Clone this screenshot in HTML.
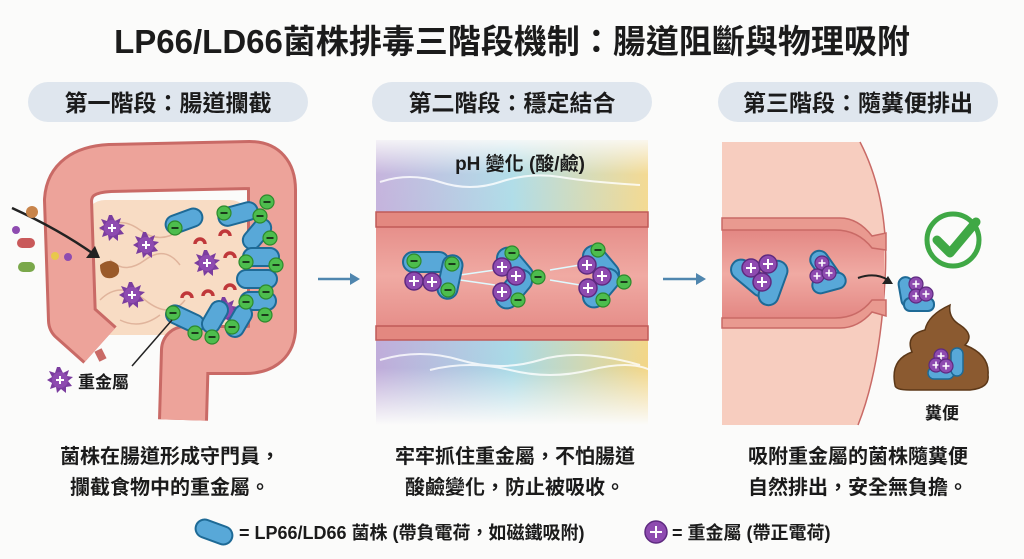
<!DOCTYPE html>
<html><head><meta charset="utf-8"><style>
body{margin:0;background:#fbfbfa;}
svg{display:block}
text{font-family:"Liberation Sans","Noto Sans CJK TC",sans-serif;font-weight:700;fill:#1b1b1b}
</style></head><body>
<svg width="1024" height="559" viewBox="0 0 1024 559" xmlns="http://www.w3.org/2000/svg">
<defs>
<g id="m"><circle r="9" fill="#8e4bb0" stroke="#5e2a80" stroke-width="1.5"/><path d="M-5 0H5M0-5V5" stroke="#fff" stroke-width="2"/></g>
<g id="sm"><circle r="7" fill="#8e4bb0" stroke="#5e2a80" stroke-width="1.2"/><path d="M-3.5 0H3.5M0-3.5V3.5" stroke="#fff" stroke-width="1.6"/></g>
<g id="n"><circle r="7" fill="#4dbd4d" stroke="#2d8a2d" stroke-width="1.2"/><path d="M-3.5 0H3.5" stroke="#1b3b1b" stroke-width="2"/></g>
<g id="star"><polygon points="0,-13 3,-7 9,-10 7,-4 13,-3 8,1 12,6 6,7 6,13 1,9 -3,13 -4,7 -10,9 -8,3 -13,0 -8,-3 -11,-9 -5,-7 -3,-13" fill="#7b3d9f"/><circle r="8" fill="#8e4bb0"/><path d="M-4 0H4M0-4V4" stroke="#fff" stroke-width="2"/></g>
<linearGradient id="rb" x1="0" x2="1"><stop offset="0" stop-color="#b9a3d6"/><stop offset=".5" stop-color="#9fd6e4"/><stop offset="1" stop-color="#f2d27a"/></linearGradient>
<linearGradient id="fade" x1="0" y1="0" x2="0" y2="1"><stop offset="0" stop-color="#fbfbfa" stop-opacity=".9"/><stop offset=".12" stop-color="#fbfbfa" stop-opacity=".2"/><stop offset=".8" stop-color="#fbfbfa" stop-opacity=".1"/><stop offset="1" stop-color="#fbfbfa" stop-opacity="1"/></linearGradient>
<linearGradient id="lum" x1="0" y1="0" x2="0" y2="1"><stop offset="0" stop-color="#e38783"/><stop offset=".5" stop-color="#f0aaa3"/><stop offset="1" stop-color="#e38783"/></linearGradient>
</defs>

<text x="512" y="53" font-size="33" text-anchor="middle">LP66/LD66菌株排毒三階段機制：腸道阻斷與物理吸附</text>

<rect x="28" y="82" width="280" height="40" rx="20" fill="#dfe6ee"/>
<text x="168" y="111" font-size="23" text-anchor="middle">第一階段：腸道攔截</text>
<rect x="372" y="82" width="280" height="40" rx="20" fill="#dfe6ee"/>
<text x="512" y="111" font-size="23" text-anchor="middle">第二階段：穩定結合</text>
<rect x="718" y="82" width="280" height="40" rx="20" fill="#dfe6ee"/>
<text x="858" y="111" font-size="23" text-anchor="middle">第三階段：隨糞便排出</text>

<!-- Panel 1 colon -->
<rect x="85" y="200" width="165" height="135" rx="20" fill="#f8dcc4"/>
<g fill="none" stroke="#e0b49c" stroke-width="1.5">
<path d="M100 230q20-15 40 0t40 0M110 260q15 15 35 0t35 5M100 300q20-20 45 0t40 0M120 320q20 10 40-5"/>
</g>
<path d="M100 345 L72 320 L68 200 Q70 170 110 168 L250 165 Q272 165 272 190 L272 330 Q270 350 245 350 L185 350 L183 420" fill="none" stroke="#c96a66" stroke-width="50" stroke-linejoin="round"/>
<path d="M100 345 L72 320 L68 200 Q70 170 110 168 L250 165 Q272 165 272 190 L272 330 Q270 350 245 350 L185 350 L183 420" fill="none" stroke="#eda39a" stroke-width="44" stroke-linejoin="round"/>
<path d="M98 350 l5 10" stroke="#c96a66" stroke-width="8"/>
<path d="M12 208 Q60 230 95 255" fill="none" stroke="#222" stroke-width="2.5"/>
<polygon points="100,258 86,258 95,246" fill="#222"/>
<circle cx="32" cy="212" r="6" fill="#c8844a"/><circle cx="16" cy="230" r="4" fill="#8e4bb0"/>
<rect x="17" y="238" width="18" height="10" rx="5" fill="#c9595a"/><circle cx="55" cy="256" r="4" fill="#e8c84b"/><circle cx="68" cy="257" r="4" fill="#8e4bb0"/>
<rect x="18" y="262" width="17" height="10" rx="5" fill="#7aa84a"/>
<path d="M100 265q10-8 18 0q4 10-6 13q-12 2-12-13z" fill="#9a5a2a"/>
<use href="#star" x="112" y="228"/><use href="#star" x="146" y="245"/><use href="#star" x="132" y="295"/><use href="#star" x="207" y="263"/><use href="#star" x="225" y="310"/>
<g fill="#58a8d8" stroke="#1e6a96" stroke-width="2">
<rect x="165" y="212" width="38" height="18" rx="9" transform="rotate(-20 184 221)"/>
<rect x="218" y="205" width="40" height="18" rx="9" transform="rotate(-15 238 214)"/>
<rect x="240" y="225" width="34" height="18" rx="9" transform="rotate(-50 257 234)"/>
<rect x="243" y="248" width="36" height="18" rx="9"/>
<rect x="237" y="270" width="40" height="18" rx="9"/>
<rect x="240" y="292" width="36" height="18" rx="9"/>
<rect x="165" y="310" width="40" height="18" rx="9" transform="rotate(25 185 319)"/>
<rect x="198" y="308" width="34" height="18" rx="9" transform="rotate(-60 215 317)"/>
<rect x="222" y="312" width="34" height="18" rx="9" transform="rotate(-60 239 321)"/>
</g>
<use href="#n" x="175" y="228"/><use href="#n" x="224" y="213"/><use href="#n" x="267" y="202"/><use href="#n" x="260" y="216"/><use href="#n" x="270" y="238"/><use href="#n" x="276" y="265"/><use href="#n" x="266" y="292"/><use href="#n" x="265" y="315"/><use href="#n" x="173" y="313"/><use href="#n" x="195" y="333"/><use href="#n" x="212" y="337"/><use href="#n" x="232" y="327"/><use href="#n" x="246" y="262"/><use href="#n" x="246" y="302"/>
<g fill="none" stroke="#c0383a" stroke-width="3.5">
<path d="M195 244a5 5 0 0 1 10 0"/><path d="M220 236a5 5 0 0 1 10 0"/><path d="M225 258a5 5 0 0 1 10 0"/><path d="M182 298a5 5 0 0 1 10 0"/><path d="M203 296a5 5 0 0 1 10 0"/><path d="M225 290a5 5 0 0 1 10 0"/>
</g>
<path d="M172 320 L132 366" stroke="#222" stroke-width="1.5"/>
<use href="#star" x="60" y="380"/>
<text x="78" y="388" font-size="17">重金屬</text>

<!-- arrows -->
<path d="M318 279H352" stroke="#4f86ae" stroke-width="2.5"/><polygon points="360,279 350,273 350,285" fill="#4f86ae"/>
<path d="M663 279H697" stroke="#4f86ae" stroke-width="2.5"/><polygon points="706,279 696,273 696,285" fill="#4f86ae"/>

<!-- Panel 2 -->
<rect x="376" y="140" width="272" height="285" fill="url(#rb)"/>
<rect x="376" y="140" width="272" height="285" fill="url(#fade)"/>
<text x="520" y="170" font-size="19" text-anchor="middle">pH 變化 (酸/鹼)</text>
<g fill="none" stroke="#fff" stroke-width="2" opacity=".8">
<path d="M380 182q30-10 60 0t60 0t60-5t80 8"/><path d="M380 360q40-12 80 0t80 0t100 5"/><path d="M430 370q40-10 80 0t80 0t60 0"/>
</g>
<rect x="376" y="212" width="272" height="128" fill="url(#lum)"/>
<rect x="376" y="212" width="272" height="15" fill="#e38880" stroke="#c05a58" stroke-width="1.5"/>
<rect x="376" y="326" width="272" height="14" fill="#e38880" stroke="#c05a58" stroke-width="1.5"/>
<path d="M460 275L495 270M460 280L495 285M550 270L580 265M550 280L580 285" stroke="#dffaff" stroke-width="1.5"/>
<g fill="#58a8d8" stroke="#1e6a96" stroke-width="2">
<rect x="403" y="252" width="46" height="20" rx="10"/><rect x="440" y="255" width="20" height="44" rx="10" transform="rotate(12 450 277)"/>
<rect x="504" y="245" width="22" height="44" rx="11" transform="rotate(-40 515 267)"/><rect x="503" y="267" width="22" height="44" rx="11" transform="rotate(40 514 289)"/>
<rect x="590" y="243" width="22" height="44" rx="11" transform="rotate(-40 601 265)"/><rect x="590" y="266" width="22" height="44" rx="11" transform="rotate(40 601 288)"/>
</g>
<use href="#n" x="414" y="261"/><use href="#n" x="452" y="264"/><use href="#n" x="448" y="290"/>
<use href="#n" x="512" y="253"/><use href="#n" x="538" y="277"/><use href="#n" x="518" y="300"/>
<use href="#n" x="598" y="250"/><use href="#n" x="624" y="282"/><use href="#n" x="603" y="300"/>
<use href="#m" x="414" y="281"/><use href="#m" x="432" y="282"/>
<use href="#m" x="502" y="267"/><use href="#m" x="516" y="276"/><use href="#m" x="502" y="292"/>
<use href="#m" x="587" y="265"/><use href="#m" x="602" y="276"/><use href="#m" x="588" y="288"/>

<!-- Panel 3 -->
<path d="M722 142H860Q890 200 885 280Q880 370 858 425H722Z" fill="#f7cdbf"/>
<path d="M860 142Q890 200 885 280Q880 370 858 425" fill="none" stroke="#c96a66" stroke-width="1.5"/>
<path d="M722 230H835Q858 230 872 248L884 250V300L872 300Q858 318 835 318H722Z" fill="url(#lum)"/>
<path d="M722 218H840Q858 218 872 236L886 233V250L872 248Q858 230 835 230H722Z" fill="#e99a90" stroke="#c96a66" stroke-width="1.5"/>
<path d="M722 328H840Q858 328 872 312L886 316V300L872 300Q858 318 835 318H722Z" fill="#e99a90" stroke="#c96a66" stroke-width="1.5"/>
<g fill="#58a8d8" stroke="#1e6a96" stroke-width="2">
<rect x="728" y="268" width="46" height="20" rx="10" transform="rotate(40 751 278)"/><rect x="763" y="260" width="20" height="46" rx="10" transform="rotate(20 773 283)"/>
<rect x="816" y="249" width="18" height="38" rx="9" transform="rotate(-35 825 268)"/><rect x="812" y="275" width="34" height="16" rx="8" transform="rotate(-15 829 283)"/>
<rect x="900" y="277" width="14" height="30" rx="7" transform="rotate(-10 907 292)"/><rect x="904" y="298" width="30" height="13" rx="6"/>
<rect x="937" y="347" width="13" height="28" rx="6" transform="rotate(10 943 361)"/>
</g>
<path d="M858 278Q875 272 888 280" fill="none" stroke="#222" stroke-width="2"/><polygon points="893,284 882,284 888,276" fill="#222"/>
<use href="#m" x="751" y="268"/><use href="#m" x="768" y="264"/><use href="#m" x="762" y="282"/>
<use href="#sm" x="822" y="263"/><use href="#sm" x="817" y="276"/><use href="#sm" x="829" y="273"/>
<use href="#sm" x="916" y="284"/><use href="#sm" x="916" y="296"/><use href="#sm" x="926" y="294"/>
<circle cx="953" cy="240" r="26" fill="none" stroke="#3fa845" stroke-width="5"/>
<path d="M937 240L950 253L976 222" fill="none" stroke="#3fa845" stroke-width="9" stroke-linecap="round" stroke-linejoin="round"/>
<path d="M895 385Q890 360 912 352Q905 335 925 330Q928 315 950 305Q948 318 960 325Q975 335 965 345Q990 355 988 375Q990 388 970 390H910Q895 390 895 385Z" fill="#8b5a30" stroke="#5c3818" stroke-width="1.5"/>
<g fill="#58a8d8" stroke="#1e6a96" stroke-width="1.5"><rect x="928" y="367" width="26" height="12" rx="6"/><rect x="951" y="348" width="12" height="28" rx="6"/></g>
<use href="#sm" x="941" y="356"/><use href="#sm" x="936" y="365"/><use href="#sm" x="946" y="366"/>
<text x="942" y="419" font-size="17" text-anchor="middle">糞便</text>

<!-- captions -->
<g font-size="20" text-anchor="middle">
<text x="170" y="463">菌株在腸道形成守門員，</text><text x="170" y="494">攔截食物中的重金屬。</text>
<text x="515" y="463">牢牢抓住重金屬，不怕腸道</text><text x="515" y="494">酸鹼變化，防止被吸收。</text>
<text x="858" y="463">吸附重金屬的菌株隨糞便</text><text x="858" y="494">自然排出，安全無負擔。</text>
</g>
<rect x="195" y="523" width="38" height="18" rx="9" fill="#58a8d8" stroke="#1e6a96" stroke-width="2" transform="rotate(20 214 532)"/>
<text x="239" y="539" font-size="18">= LP66/LD66 菌株 (帶負電荷，如磁鐵吸附)</text>
<circle cx="656" cy="532" r="11" fill="#8e4bb0" stroke="#5e2a80" stroke-width="1.5"/><path d="M650 532H662M656 526V538" stroke="#fff" stroke-width="2"/>
<text x="672" y="539" font-size="18">= 重金屬 (帶正電荷)</text>
</svg>
</body></html>
